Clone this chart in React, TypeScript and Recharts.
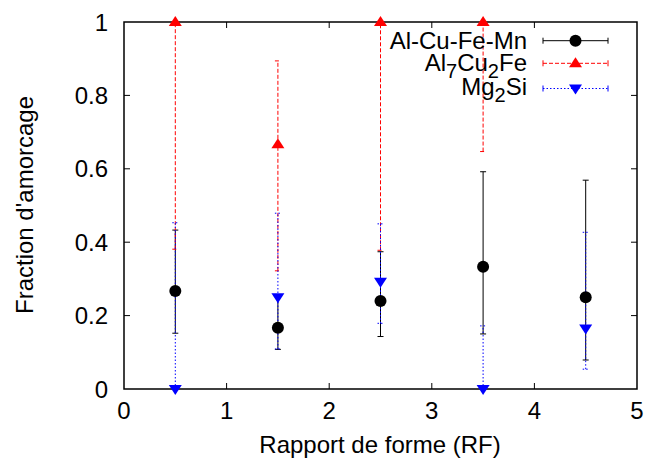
import React from 'react';
import { ScatterChart, Scatter, XAxis, YAxis, ErrorBar, ReferenceArea } from 'recharts';

const xValues = [0.5, 1.5, 2.5, 3.5, 4.5];

const alCuFeMn = [0.267, 0.167, 0.24, 0.333, 0.25];
const alCuFeMnLow = [0.152, 0.108, 0.143, 0.15, 0.079];
const alCuFeMnHigh = [0.433, 0.25, 0.374, 0.592, 0.569];

const al7Cu2Fe = [1, 0.667, 1, 1, null];
const al7Cu2FeLow = [0.381, 0.322, 0.378, 0.647, null];
const al7Cu2FeHigh = [1, 0.894, 1, 1, null];

const mg2Si = [0, 0.25, 0.292, 0, 0.165];
const mg2SiLow = [0, 0.109, 0.179, 0, 0.054];
const mg2SiHigh = [0.453, 0.479, 0.45, 0.172, 0.427];

const xTicks = [0, 1, 2, 3, 4, 5];
const yTicks = [0, 0.2, 0.4, 0.6, 0.8, 1];

const xLabel = 'Rapport de forme (RF)';
const yLabel = "Fraction d'amorcage";

const FONT = '"Liberation Sans", Arial, Helvetica, sans-serif';
const W = 646;
const H = 461;
const M = { top: 22, right: 9, bottom: 0, left: 0 };
const Y_AXIS_W = 124;
const X_AXIS_H = 72;
const PLOT_W = W - M.left - M.right - Y_AXIS_W;
const PLOT_H = H - M.top - M.bottom - X_AXIS_H;
const TICK = 6;

type Row = { x: number; y: number; err: [number, number] };

function build(ys: (number | null)[], lows: (number | null)[], highs: (number | null)[]): Row[] {
  const out: Row[] = [];
  xValues.forEach((x, i) => {
    const y = ys[i];
    const lo = lows[i];
    const hi = highs[i];
    if (y == null || lo == null || hi == null) return;
    out.push({ x, y, err: [y - lo, hi - y] });
  });
  return out;
}

const dataBlack = build(alCuFeMn, alCuFeMnLow, alCuFeMnHigh);
const dataRed = build(al7Cu2Fe, al7Cu2FeLow, al7Cu2FeHigh);
const dataBlue = build(mg2Si, mg2SiLow, mg2SiHigh);

const CircleShape = (p: any) => <circle cx={p.cx} cy={p.cy} r={6} fill="#000" />;
const TriUpShape = (p: any) => (
  <polygon
    points={`${p.cx - 6.5},${p.cy + 4} ${p.cx + 6.5},${p.cy + 4} ${p.cx},${p.cy - 6}`}
    fill="#ff0000"
  />
);
const TriDownShape = (p: any) => (
  <polygon
    points={`${p.cx - 6.5},${p.cy - 4} ${p.cx + 6.5},${p.cy - 4} ${p.cx},${p.cy + 6}`}
    fill="#0000ff"
  />
);

const YTick = (p: any) => {
  const { x, y, payload } = p;
  const v = payload.value;
  const inner = v !== 0 && v !== 1;
  return (
    <g>
      <text x={x - 16} y={y} dy="0.36em" textAnchor="end" fontFamily={FONT} fontSize={24} fill="#000">
        {String(v)}
      </text>
      {inner && <line x1={x} x2={x + TICK} y1={y} y2={y} stroke="#000" strokeWidth={1} />}
      {inner && <line x1={x + PLOT_W - TICK} x2={x + PLOT_W} y1={y} y2={y} stroke="#000" strokeWidth={1} />}
    </g>
  );
};

const XTick = (p: any) => {
  const { x, y, payload } = p;
  const v = payload.value;
  const inner = v !== 0 && v !== 5;
  return (
    <g>
      <text x={x} y={y + 30} textAnchor="middle" fontFamily={FONT} fontSize={24} fill="#000">
        {String(v)}
      </text>
      {inner && <line x1={x} x2={x} y1={y} y2={y - TICK} stroke="#000" strokeWidth={1} />}
      {inner && <line x1={x} x2={x} y1={y - PLOT_H} y2={y - PLOT_H + TICK} stroke="#000" strokeWidth={1} />}
    </g>
  );
};

const legendX1 = 543;
const legendX2 = 608;
const legendTextX = 527;

const LegendSample = ({ y, color, dash, kind }: { y: number; color: string; dash?: string; kind: string }) => {
  const cx = (legendX1 + legendX2) / 2;
  return (
    <g>
      <line x1={legendX1} x2={legendX2} y1={y} y2={y} stroke={color} strokeWidth={1} strokeDasharray={dash} />
      <line x1={legendX1} x2={legendX1} y1={y - 3} y2={y + 3} stroke={color} strokeWidth={1} />
      <line x1={legendX2} x2={legendX2} y1={y - 3} y2={y + 3} stroke={color} strokeWidth={1} />
      {kind === 'circle' && <circle cx={cx} cy={y} r={6} fill={color} />}
      {kind === 'up' && <polygon points={`${cx - 6.5},${y + 4} ${cx + 6.5},${y + 4} ${cx},${y - 6}`} fill={color} />}
      {kind === 'down' && <polygon points={`${cx - 6.5},${y - 4} ${cx + 6.5},${y - 4} ${cx},${y + 6}`} fill={color} />}
    </g>
  );
};

export default function App() {
  return (
    <div style={{ position: 'absolute', left: 0, top: 0, width: W, height: H, background: '#fff' }}>
      <ScatterChart width={W} height={H} margin={M}>
        <ReferenceArea x1={0} x2={5} y1={0} y2={1} fill="none" stroke="#000" strokeWidth={1.5} ifOverflow="visible" />
        <XAxis
          type="number"
          dataKey="x"
          domain={[0, 5]}
          ticks={xTicks}
          height={X_AXIS_H}
          axisLine={false}
          tickLine={false}
          tickSize={0}
          tickMargin={0}
          tick={<XTick />}
          interval={0}
        />
        <YAxis
          type="number"
          dataKey="y"
          domain={[0, 1]}
          ticks={yTicks}
          width={Y_AXIS_W}
          axisLine={false}
          tickLine={false}
          tickSize={0}
          tickMargin={0}
          tick={<YTick />}
          interval={0}
        />
        <Scatter data={dataBlack} shape={CircleShape} isAnimationActive={false}>
          <ErrorBar dataKey="err" direction="y" width={3} stroke="#000" strokeWidth={1} isAnimationActive={false} />
        </Scatter>
        <Scatter data={dataRed} shape={TriUpShape} isAnimationActive={false}>
          <ErrorBar dataKey="err" direction="y" width={3} stroke="#ff0000" strokeWidth={1} strokeDasharray="4 2" isAnimationActive={false} />
        </Scatter>
        <Scatter data={dataBlue} shape={TriDownShape} isAnimationActive={false}>
          <ErrorBar dataKey="err" direction="y" width={3} stroke="#0000ff" strokeWidth={1} strokeDasharray="1.5 2" isAnimationActive={false} />
        </Scatter>
      </ScatterChart>
      <svg width={W} height={H} style={{ position: 'absolute', left: 0, top: 0, pointerEvents: 'none' }}>
        <text
          x={380}
          y={453}
          textAnchor="middle"
          fontFamily={FONT}
          fontSize={24}
          fill="#000"
        >
          {xLabel}
        </text>
        <text
          transform="translate(33,205) rotate(-90)"
          textAnchor="middle"
          fontFamily={FONT}
          fontSize={24}
          fill="#000"
        >
          {yLabel}
        </text>
        <g fontFamily={FONT} fontSize={24} fill="#000" textAnchor="end">
          <text x={legendTextX} y={48.5}>Al-Cu-Fe-Mn</text>
          <text x={legendTextX} y={71}>
            Al<tspan fontSize={20} dy={7}>7</tspan>
            <tspan dy={-7}>Cu</tspan>
            <tspan fontSize={20} dy={7}>2</tspan>
            <tspan dy={-7}>Fe</tspan>
          </text>
          <text x={legendTextX} y={95}>
            Mg<tspan fontSize={20} dy={7}>2</tspan>
            <tspan dy={-7}>Si</tspan>
          </text>
        </g>
        <LegendSample y={40.7} color="#000" kind="circle" />
        <LegendSample y={63.3} color="#ff0000" dash="4 2" kind="up" />
        <LegendSample y={88.5} color="#0000ff" dash="1.5 2" kind="down" />
      </svg>
    </div>
  );
}
